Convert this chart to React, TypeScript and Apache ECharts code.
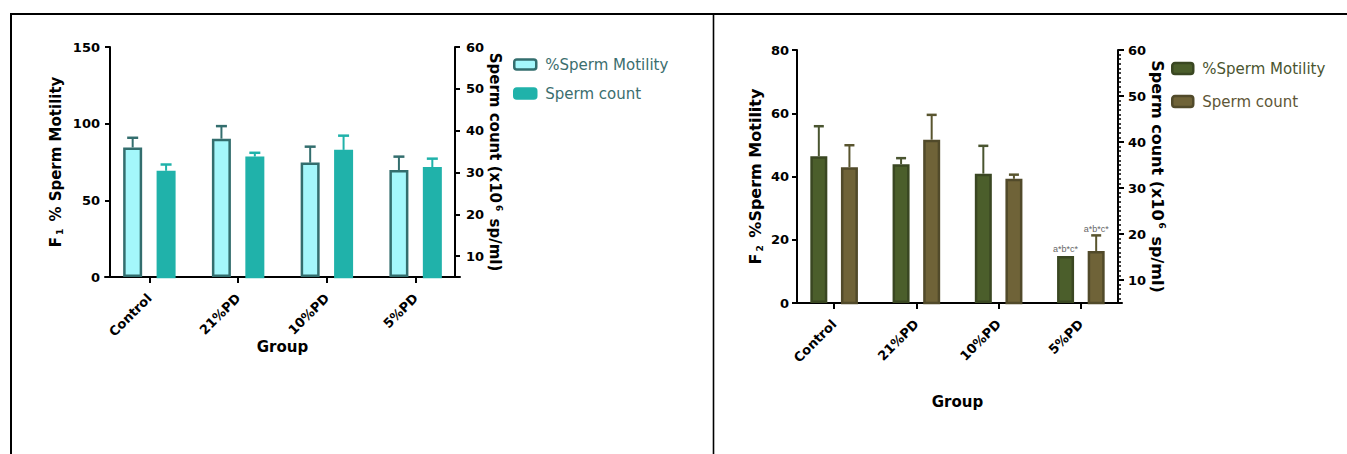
import React, { useEffect, useRef } from "react";
import * as echarts from "echarts";

const groups = ["Control", "21%PD", "10%PD", "5%PD"];

// F1 chart
const f1Motility = [84.5, 90.2, 74.6, 69.8];
const f1MotilityErr = [6.3, 8.2, 10.4, 8.7];
const f1Count = [30.4, 33.8, 35.4, 31.3];
const f1CountErr = [1.5, 0.9, 3.4, 2.0];

// F2 chart
const f2Motility = [46.4, 43.9, 40.9, 14.9];
const f2MotilityErr = [9.5, 1.9, 8.8, 0];
const f2Count = [34.5, 40.5, 32.0, 16.3];
const f2CountErr = [4.8, 5.4, 0.9, 3.4];
const f2MotilityAnnot = ["", "", "", "a*b*c*"];
const f2CountAnnot = ["", "", "", "a*b*c*"];

const leftTicks1 = { min: 0, max: 150, interval: 50 };
const leftTicks2 = { min: 0, max: 80, interval: 20 };
const rightTickValues = [10, 20, 30, 40, 50, 60];
const rightMinorValues = Array.from({ length: 56 }, (_, i) => i + 5).filter((v) => v % 10 !== 0);

const FAM = '"DejaVu Sans", "Liberation Sans", Arial, sans-serif';
const FAM_SMALL = '"Liberation Sans", Arial, sans-serif';

function errSeries(
  xAxisIndex: number,
  yAxisIndex: number,
  values: number[],
  errs: number[],
  offset: number,
  color: string,
  capW: number,
  annots?: string[]
) {
  return {
    type: "custom",
    xAxisIndex,
    yAxisIndex,
    z: 4,
    silent: true,
    encode: { x: 0, y: 1 },
    data: values.map((v, i) => [i, v, errs[i]]),
    renderItem: (params: any, api: any) => {
      const i = api.value(0);
      const v = api.value(1);
      const e = api.value(2);
      const base = api.coord([i, v]);
      const top = api.coord([i, v + e]);
      const x = base[0] + offset;
      const children: any[] = [];
      if (e > 0) {
        children.push({
          type: "line",
          shape: { x1: x, y1: base[1], x2: x, y2: top[1] },
          style: { stroke: color, lineWidth: 2 },
        });
        children.push({
          type: "line",
          shape: { x1: x - capW / 2, y1: top[1], x2: x + capW / 2, y2: top[1] },
          style: { stroke: color, lineWidth: 2.5 },
        });
      }
      const a = annots ? annots[params.dataIndex] : "";
      if (a) {
        children.push({
          type: "text",
          x: x,
          y: top[1] - 2,
          style: {
            text: a,
            textAlign: "center",
            textVerticalAlign: "bottom",
            fontSize: 9,
            fontFamily: FAM_SMALL,
            fill: "#666",
          },
        });
      }
      return { type: "group", children };
    },
  };
}

const axisLine = { show: true, lineStyle: { color: "#000", width: 2 } };
const axisTick = { show: true, length: 5, lineStyle: { color: "#000", width: 2 } };
const tickLabel = { fontWeight: "bold", fontSize: 13, color: "#000", fontFamily: FAM };
const nameStyle = (size: number) => ({
  fontWeight: "bold",
  fontSize: size,
  color: "#000",
  fontFamily: FAM,
  rich: {
    sub: { fontSize: 9, fontWeight: "bold", fontFamily: FAM, color: "#000", verticalAlign: "bottom", padding: [8, 2, 0, 2] },
    sup: { fontSize: 9, fontWeight: "bold", fontFamily: FAM, color: "#000", verticalAlign: "top", padding: [0, 2, 8, 2] },
  },
});

export default function App() {
  const ref = useRef<HTMLDivElement>(null);
  useEffect(() => {
    if (!ref.current) return;
    const chart = echarts.init(ref.current, null, { renderer: "svg" });
    const c1 = { motFill: "#A4F7FB", motBorder: "#336E6E", cnt: "#20B2AA" };
    const c2 = { motFill: "#4B5E2B", motBorder: "#3A4722", cntFill: "#6F6338", cntBorder: "#514A2A", motErr: "#4A5530", cntErr: "#59552F" };

    const xAxisBase = {
      type: "category",
      data: groups,
      axisLine,
      axisTick: { show: true, alignWithLabel: true, length: 6, lineStyle: { color: "#000", width: 2 } },
      axisLabel: { ...tickLabel, fontSize: 13, rotate: 45, margin: 19 },
      name: "Group",
      nameLocation: "middle",
      nameMoveOverlap: false,
      nameTextStyle: { fontWeight: "bold", fontSize: 15, color: "#000", fontFamily: FAM },
      splitLine: { show: false },
    };

    chart.setOption({
      animation: false,
      backgroundColor: "#fff",
      textStyle: { fontFamily: FAM },
      graphic: [
        { type: "line", shape: { x1: 10, y1: 14, x2: 1347, y2: 14 }, style: { stroke: "#000", lineWidth: 2 } },
        { type: "line", shape: { x1: 11, y1: 13, x2: 11, y2: 454 }, style: { stroke: "#000", lineWidth: 2 } },
        { type: "line", shape: { x1: 713.5, y1: 14, x2: 713.5, y2: 454 }, style: { stroke: "#000", lineWidth: 1.6 } },
      ],
      grid: [
        { left: 105, top: 47, width: 355, height: 230 },
        { left: 793, top: 50, width: 329, height: 253 },
      ],
      legend: [
        {
          orient: "vertical",
          left: 508,
          top: 52,
          itemWidth: 22,
          itemHeight: 10,
          itemGap: 14,
          selectedMode: false,
          data: [
            { name: "%Sperm Motility", itemStyle: { color: c1.motFill, borderColor: c1.motBorder, borderWidth: 2.5 } },
            { name: "Sperm count", itemStyle: { color: c1.cnt, borderColor: c1.cnt, borderWidth: 2.5 } },
          ],
          textStyle: { color: "#3B6E6E", fontSize: 15, fontFamily: FAM, padding: [0, 0, 0, 4] },
        },
        {
          orient: "vertical",
          left: 1166,
          top: 56,
          itemWidth: 21,
          itemHeight: 11,
          itemGap: 18,
          selectedMode: false,
          data: [
            { name: "F2 %Sperm Motility", itemStyle: { color: c2.motFill, borderColor: c2.motBorder, borderWidth: 2.5 }, textStyle: { color: "#4A5530" } },
            { name: "F2 Sperm count", itemStyle: { color: c2.cntFill, borderColor: c2.cntBorder, borderWidth: 2.5 }, textStyle: { color: "#5E5636" } },
          ],
          formatter: (n: string) => n.replace(/^F2 /, ""),
          textStyle: { fontSize: 15, fontFamily: FAM, padding: [0, 0, 0, 4] },
        },
      ],
      xAxis: [
        { ...xAxisBase, gridIndex: 0, nameGap: 62 },
        { ...xAxisBase, gridIndex: 1, nameGap: 91 },
      ],
      yAxis: [
        {
          type: "value",
          gridIndex: 0,
          position: "left",
          offset: -5,
          ...leftTicks1,
          axisLine,
          axisTick,
          splitLine: { show: false },
          axisLabel: { ...tickLabel, margin: 10 },
          name: "F{sub|1} % Sperm Motility",
          nameLocation: "middle",
          nameRotate: 90,
          nameGap: 46,
          nameTextStyle: nameStyle(15),
        },
        {
          type: "value",
          gridIndex: 0,
          position: "right",
          offset: -5,
          min: 5,
          max: 60,
          interval: 5,
          axisLine,
          axisTick: { ...axisTick, customValues: rightTickValues },
          splitLine: { show: false },
          axisLabel: { ...tickLabel, margin: 11, customValues: rightTickValues },
          name: "Sperm count (x10{sup|6} sp/ml)",
          nameLocation: "middle",
          nameRotate: -90,
          nameGap: 31,
          nameTextStyle: nameStyle(15),
        },
        {
          type: "value",
          gridIndex: 1,
          position: "left",
          offset: -4,
          ...leftTicks2,
          axisLine,
          axisTick,
          splitLine: { show: false },
          axisLabel: { ...tickLabel, margin: 8 },
          name: "F{sub|2} %Sperm Motility",
          nameLocation: "middle",
          nameRotate: 90,
          nameGap: 33,
          nameTextStyle: nameStyle(16),
        },
        {
          type: "value",
          gridIndex: 1,
          position: "right",
          offset: -4,
          min: 5,
          max: 60,
          interval: 5,
          axisLine,
          axisTick: { ...axisTick, length: 6, customValues: rightTickValues },
          splitLine: { show: false },
          axisLabel: { ...tickLabel, margin: 10, customValues: rightTickValues },
          name: "Sperm count (x10{sup|6} sp/ml)",
          nameLocation: "middle",
          nameRotate: -90,
          nameGap: 30,
          nameTextStyle: nameStyle(16),
        },
        {
          type: "value",
          gridIndex: 1,
          position: "right",
          offset: -4,
          min: 5,
          max: 60,
          interval: 5,
          axisLine: { show: false },
          axisTick: { show: true, length: 3, lineStyle: { color: "#000", width: 1.5 }, customValues: rightMinorValues },
          axisLabel: { show: false },
          splitLine: { show: false },
        },
      ],
      series: [
        {
          name: "%Sperm Motility",
          type: "bar",
          xAxisIndex: 0,
          yAxisIndex: 0,
          data: f1Motility,
          barWidth: 19,
          barGap: "76%",
          itemStyle: { color: c1.motFill, borderColor: c1.motBorder, borderWidth: 2.5 },
        },
        {
          name: "Sperm count",
          type: "bar",
          xAxisIndex: 0,
          yAxisIndex: 1,
          data: f1Count,
          barWidth: 19,
          barGap: "76%",
          itemStyle: { color: c1.cnt, borderColor: c1.cnt, borderWidth: 2.5 },
        },
        errSeries(0, 0, f1Motility, f1MotilityErr, -16.7, c1.motBorder, 11),
        errSeries(0, 1, f1Count, f1CountErr, 16.7, c1.cnt, 11),
        {
          name: "F2 %Sperm Motility",
          type: "bar",
          xAxisIndex: 1,
          yAxisIndex: 2,
          data: f2Motility,
          barWidth: 17,
          barGap: "80%",
          itemStyle: { color: c2.motFill, borderColor: c2.motBorder, borderWidth: 2.5 },
        },
        {
          name: "F2 Sperm count",
          type: "bar",
          xAxisIndex: 1,
          yAxisIndex: 3,
          data: f2Count,
          barWidth: 17,
          barGap: "80%",
          itemStyle: { color: c2.cntFill, borderColor: c2.cntBorder, borderWidth: 2.5 },
        },
        errSeries(1, 2, f2Motility, f2MotilityErr, -15.3, c2.motErr, 10, f2MotilityAnnot),
        errSeries(1, 3, f2Count, f2CountErr, 15.3, c2.cntErr, 10, f2CountAnnot),
      ],
    });
    return () => chart.dispose();
  }, []);
  return (
    <div
      ref={ref}
      style={{ position: "absolute", left: 0, top: 0, width: 1347, height: 454 }}
    />
  );
}
